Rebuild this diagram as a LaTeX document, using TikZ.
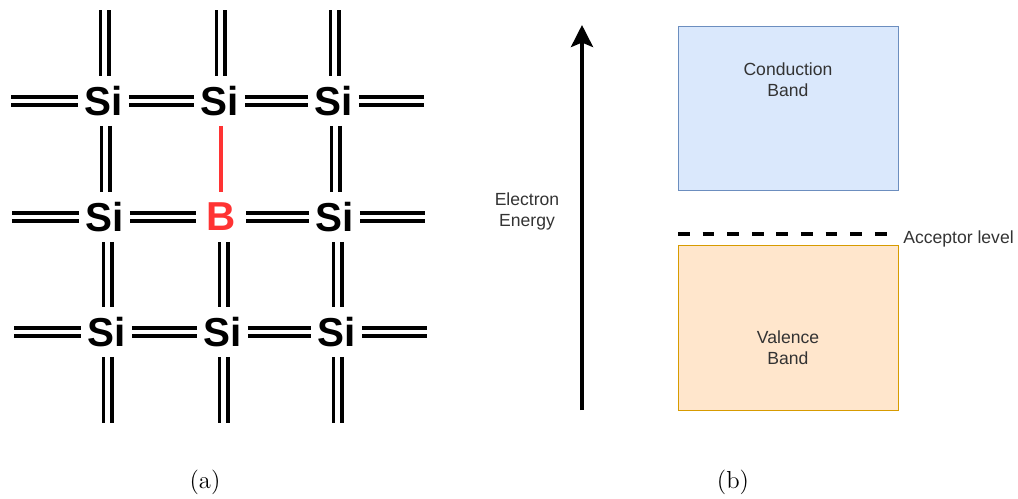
\documentclass[tikz,border=0pt]{standalone}
\usepackage{fontspec}
\usetikzlibrary{arrows.meta}
\newfontfamily\labelfont{Liberation Sans}
\definecolor{bondred}{HTML}{FF3333}
\definecolor{condfill}{HTML}{DAE8FC}
\definecolor{conddraw}{HTML}{6C8EBF}
\definecolor{valfill}{HTML}{FFE6CC}
\definecolor{valdraw}{HTML}{D79B00}
\tikzset{
  atom/.style={inner sep=0pt,minimum width=1cm,minimum height=0.98cm,font=\labelfont\bfseries\fontsize{23}{25}\selectfont},
  bond/.style={line width=2.2pt,double,double distance=2.6pt},
  band/.style={line width=0.45pt},
  bandlabel/.style={align=center,text=black!80,font=\labelfont\fontsize{10}{12}\selectfont},
  sublabel/.style={font=\fontsize{14}{16}\selectfont}
}

\begin{document}
\begin{tikzpicture}[x=0.02cm,y=-0.02cm]
        \useasboundingbox (0,0) rectangle (1018,498);

        % lattice
        \foreach \n/\x/\y in {a1/103.5/101, a2/219.5/101, a3/333.5/101, b1/104.5/217, b3/334.5/217, c1/106.5/332, c2/222.5/332, c3/336.5/332}
        \node[atom] (\n) at (\x,\y) {Si};
        \node[atom,text=bondred] (b2) at (221,217) {B};

        % free ends
        \foreach \n/\x/\y in {wa/11/101, ea/424/101, wb/12/217, eb/425/217, wc/14/332, ec/427/332}
        \coordinate (\n) at (\x,\y);
        \foreach \n/\x/\y in {na/103.5/10, nb/219.5/10, nc/333.5/10, sa/106.5/423, sb/222.5/423, sc/336.5/423}
        \coordinate (\n) at (\x,\y);

        % horizontal bonds
        \foreach \p/\q in {wa/a1, a1/a2, a2/a3, a3/ea, wb/b1, b1/b2, b2/b3, b3/eb, wc/c1, c1/c2, c2/c3, c3/ec}
        \draw[bond] (\p) -- (\q);

        % vertical bonds
        \foreach \p/\q in {a1/b1, a3/b3, b1/c1, b2/c2, b3/c3}
        \draw[bond] ([xshift=0.024cm]\q.north |- \p.south) -- ([xshift=0.024cm]\q.north);
        \foreach \p/\q in {na/a1, nb/a2, nc/a3}
        \draw[bond] ([xshift=0.024cm]\p) -- ([xshift=0.024cm]\q.north);
        \foreach \p/\q in {c1/sa, c2/sb, c3/sc}
        \draw[bond] ([xshift=0.024cm]\p.south) -- ([xshift=0.024cm]\q);
        \draw[line width=2.2pt,color=bondred] (b2.north |- a2.south) -- (b2.north);

        % energy axis
        \coordinate (axisbot) at (582,410);
        \coordinate (axistop) at (582,25);
        \draw[-{Stealth[length=12.5pt,width=12.5pt,inset=2.5pt]},line width=2.2pt] (axisbot) -- (axistop);
        \node[bandlabel] (energy) at (527,211.5) {Electron\\Energy};

        % bands
        \draw[band,draw=conddraw,fill=condfill] (678,26) rectangle (898,190);
        \draw[band,draw=valdraw,fill=valfill] (678,245) rectangle (898,410);
        \node[bandlabel] (cond) at (788,80) {Conduction\\Band};
        \node[bandlabel] (val) at (788,348) {Valence\\Band};

        % acceptor level
        \coordinate (acca) at (678,234);
        \coordinate (accb) at (889,234);
        \draw[line width=2.5pt,dash pattern=on 6.7pt off 7.3pt] (acca) -- (accb);
        \node[bandlabel,anchor=west,inner sep=0pt] (acc) at (903,238.5) {Acceptor level};

        \node[sublabel] (suba) at (205,482) {(a)};
        \node[sublabel] (subb) at (733,482) {(b)};
\end{tikzpicture}
\end{document}
